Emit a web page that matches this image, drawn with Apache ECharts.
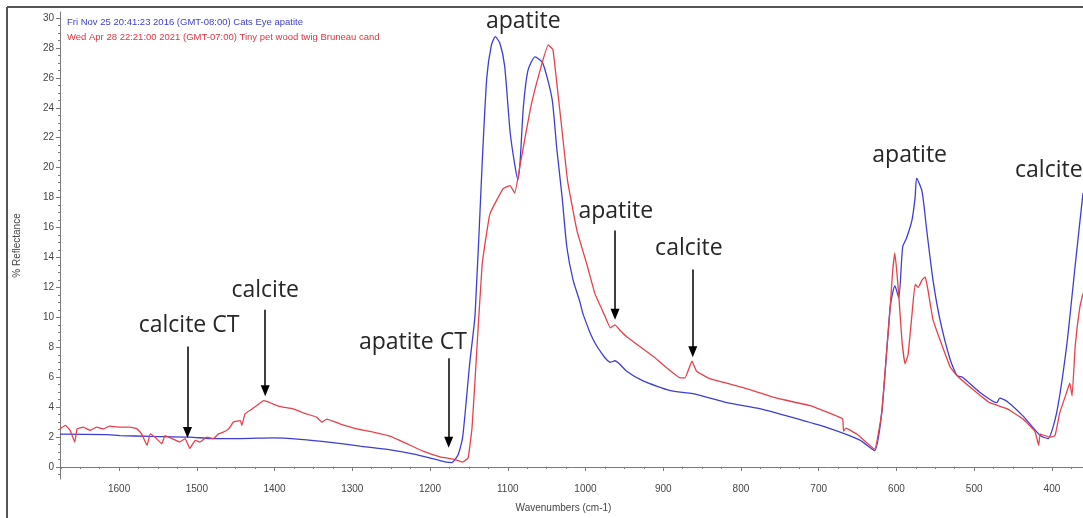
<!DOCTYPE html>
<html>
<head>
<meta charset="utf-8">
<script src="https://cdn.jsdelivr.net/npm/echarts@6/dist/echarts.min.js"></script>
<style>
  html, body { margin: 0; padding: 0; background: #fff; }
  #chart { width: 1083px; height: 518px; }
</style>
</head>
<body>
<div id="chart"></div>
<script>
// two spectra (wavenumber cm-1, % reflectance)
const seriesNames = [
  'Fri Nov 25 20:41:23 2016 (GMT-08:00) Cats Eye apatite',
  'Wed Apr 28 22:21:00 2021 (GMT-07:00) Tiny pet wood twig Bruneau cand'
];

const blueWavenumbers = [1676,1615,1599,1560,1509,1479,1444,1402,1367,1328,1290,1251,1219,1200,1181,1172,1164,1158,1149,1142,
  1133,1127,1121,1116,1110,1104,1097,1091,1087,1084,1080,1074,1065,1055,1043,1037,1030,1024,1016,1007,
  1003,990,975,968,962,947,926,891,862,818,776,733,690,647,628,619,612,608,605,602,
  597,592,587,580,576,574,567,561,553,544,531,522,515,493,471,467,458,437,415,405,
  394,381,370,360];
const blueReflectance = [2.2,2.16,2.1,2.05,2.0,1.9,1.9,1.95,1.85,1.65,1.4,1.15,0.85,0.6,0.35,0.3,0.8,2.0,6.9,10.2,
  20.2,26.0,28.2,28.75,28.3,26.8,22.4,20.2,19.2,20.5,24.0,26.5,27.4,27.0,24.6,21.3,18.0,14.7,12.5,11.0,
  10.2,8.5,7.3,7.0,7.1,6.4,5.75,5.1,4.9,4.3,3.9,3.3,2.65,1.8,1.1,3.6,8.1,10.7,11.6,12.1,
  11.3,14.7,15.3,16.5,18.0,19.3,18.4,15.8,12.5,9.85,7.2,6.1,6.0,5.0,4.3,4.6,4.4,3.4,2.1,1.9,
  3.6,8.1,13.5,18.3];

const redWavenumbers = [1676,1669,1663,1657,1654,1646,1637,1629,1620,1612,1599,1586,1577,1571,1564,1560,1554,1545,1541,1532,
  1522,1515,1509,1502,1496,1487,1479,1472,1466,1459,1453,1444,1442,1438,1429,1423,1414,1406,1397,1389,
  1376,1365,1359,1346,1339,1333,1316,1294,1273,1251,1230,1209,1187,1170,1158,1151,1146,1142,1133,1123,
  1106,1097,1091,1084,1071,1059,1048,1042,1037,1030,1023,1011,998,988,976,968,962,955,947,913,
  878,872,863,857,840,797,754,711,672,669,668,665,651,628,619,612,608,605,602,597,
  593,589,585,580,576,572,567,563,560,553,544,531,522,502,480,458,437,422,417,415,
  403,396,390,381,377,374,370,364,360];
const redReflectance = [2.55,2.78,2.45,1.67,2.55,2.66,2.45,2.66,2.55,2.73,2.66,2.66,2.55,2.22,1.45,2.22,2.0,1.56,2.1,1.9,
  1.67,1.9,1.24,1.78,1.67,2.0,1.9,2.22,2.33,2.55,3.0,3.1,2.78,3.55,3.88,4.1,4.43,4.3,4.1,4.0,
  3.88,3.66,3.55,3.33,3.0,3.2,2.89,2.55,2.33,2.05,1.56,1.06,0.68,0.53,0.33,0.6,2.6,5.9,13.5,16.9,
  18.6,18.8,18.3,20.2,23.9,26.4,28.2,27.9,25.7,22.4,19.1,15.8,13.5,11.6,10.2,9.3,9.5,9.1,8.7,7.4,
  5.95,5.95,7.07,6.4,5.9,5.3,4.6,4.1,3.3,3.2,2.4,2.6,2.2,1.2,3.6,8.1,10.7,13.0,14.3,11.5,
  8.5,6.9,7.5,10.2,12.2,12.0,12.5,12.7,12.0,9.85,8.5,6.7,6.1,5.2,4.3,3.9,3.2,2.4,1.45,2.2,
  2.0,2.1,3.6,5.0,5.6,4.75,8.1,10.7,11.6];

const xTickLabels = [1600,1500,1400,1300,1200,1100,1000,900,800,700,600,500,400];
const yTickLabels = [0,2,4,6,8,10,12,14,16,18,20,22,24,26,28,30];

// hand-drawn notes on the figure
const noteTexts = ['apatite','calcite CT','calcite','apatite CT','apatite','calcite','apatite','calcite'];
const noteWn = [1080,1510,1412,1222,961,867,583,404];
const noteY = [29.8,9.45,11.83,8.33,17.1,14.6,20.8,19.8];
const arrowWn = [1512,1412,1176,962,862];
const arrowTop = [8.06,10.5,7.27,15.8,13.2];
const arrowTip = [2.31,5.1,1.65,10.2,7.7];

const xMinor = [];
for (let v = 375; v <= 1675; v += 25) xMinor.push(v);
const yMinor = [];
for (let v = -0.5; v <= 30.25; v += 0.5) yMinor.push(v);

const zip = (a, b) => a.map((v, i) => [v, b[i]]);

const axisGray = '#7a7a7a';
const labelFont = { fontFamily: 'Liberation Sans', fontSize: 10, color: '#444', formatter: v => String(v) };

const myChart = echarts.init(document.getElementById('chart'));

const option = {
  animation: false,
  backgroundColor: '#fff',
  grid: { left: 60, right: 0, top: 12, bottom: 34 },
  legend: {
    orient: 'vertical', left: 57, top: 11,
    itemWidth: 0, itemHeight: 12, itemGap: 3,
    selectedMode: false,
    textStyle: { fontFamily: 'Liberation Sans', fontSize: 9.5 },
    data: [
      { name: seriesNames[0], icon: 'rect', textStyle: { color: '#3d3dd0' } },
      { name: seriesNames[1], icon: 'rect', textStyle: { color: '#e0343e' } }
    ]
  },
  xAxis: [{
    type: 'value', inverse: true, min: 360, max: 1676,
    name: 'Wavenumbers (cm-1)', nameLocation: 'middle', nameGap: 24,
    nameTextStyle: { fontFamily: 'Liberation Sans', fontSize: 10, color: '#444', padding: [0, 16, 0, 0] },
    axisLine: { lineStyle: { color: axisGray } },
    axisTick: { customValues: xTickLabels, length: 4, lineStyle: { color: axisGray } },
    axisLabel: Object.assign({ customValues: xTickLabels, margin: 5 }, labelFont),
    splitLine: { show: false }
  }, {
    type: 'value', inverse: true, min: 360, max: 1676, position: 'bottom',
    axisLine: { show: false },
    axisTick: { customValues: xMinor, length: 2, lineStyle: { color: axisGray } },
    axisLabel: { show: false },
    splitLine: { show: false }
  }],
  yAxis: [{
    type: 'value', min: -0.8, max: 30.4,
    name: '% Reflectance', nameLocation: 'middle', nameGap: 38, nameRotate: 90,
    nameTextStyle: { fontFamily: 'Liberation Sans', fontSize: 10, color: '#444' },
    axisLine: { show: true, lineStyle: { color: axisGray } },
    axisTick: { show: true, customValues: yTickLabels, length: 4, lineStyle: { color: axisGray } },
    axisLabel: Object.assign({ customValues: yTickLabels, margin: 6 }, labelFont),
    splitLine: { show: false }
  }, {
    type: 'value', min: -0.8, max: 30.4, position: 'left',
    axisLine: { show: false },
    axisTick: { show: true, customValues: yMinor, length: 2, lineStyle: { color: axisGray } },
    axisLabel: { show: false },
    splitLine: { show: false }
  }],
  graphic: [
    { type: 'line', shape: { x1: 7, y1: 7, x2: 7, y2: 518 }, style: { stroke: '#555', lineWidth: 2 } },
    { type: 'line', shape: { x1: 7, y1: 7, x2: 1083, y2: 7 }, style: { stroke: '#555', lineWidth: 2 } }
  ],
  series: [{
    name: seriesNames[0],
    type: 'line', showSymbol: false, smooth: 0.2,
    color: '#3d3dd6',
    lineStyle: { width: 1.3 },
    data: zip(blueWavenumbers, blueReflectance),
    markPoint: {
      silent: true, symbol: 'circle', symbolSize: 0,
      label: {
        show: true, position: 'inside',
        fontFamily: 'Open Sans', fontSize: 23, color: '#262626'
      },
      data: noteTexts.map((t, i) => ({ coord: [noteWn[i], noteY[i]], value: t, label: { formatter: t } }))
    },
    markLine: {
      silent: true, symbol: ['none', 'triangle'], symbolSize: 10,
      label: { show: false },
      lineStyle: { color: '#000', width: 1.5, type: 'solid' },
      itemStyle: { color: '#000' },
      data: arrowWn.map((w, i) => [
        { coord: [w, arrowTop[i]], symbol: 'none' },
        { coord: [w, arrowTip[i]], symbol: 'triangle', symbolSize: [9, 11] }
      ])
    }
  }, {
    name: seriesNames[1],
    type: 'line', showSymbol: false, smooth: 0.1,
    color: '#e8404a',
    lineStyle: { width: 1.3 },
    data: zip(redWavenumbers, redReflectance)
  }]
};

// 绘制图表
myChart.setOption(option);
</script>
</body>
</html>
